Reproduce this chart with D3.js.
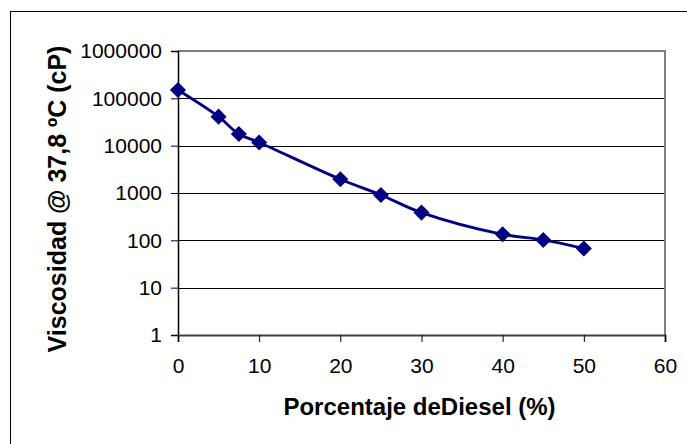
<!DOCTYPE html>
<html>
<head>
<meta charset="utf-8">
<script src="https://cdn.jsdelivr.net/npm/d3@7"></script>
<style>
  body { margin: 0; background: #fff; }
  text { font-family: "Liberation Sans", Arial, sans-serif; }
</style>
</head>
<body>
<div id="chart"></div>
<script>
// porcentaje de diesel (%)
const diesel = [0, 5, 7.5, 10, 20, 25, 30, 40, 45, 50];
// viscosidad @ 37,8 ºC (cP)
const viscosidad = [150000, 41000, 17600, 11700, 1950, 910, 385, 134, 102, 67];
const xTicks = [0, 10, 20, 30, 40, 50, 60];
const yTicks = [1, 10, 100, 1000, 10000, 100000, 1000000];

const width = 687;
const height = 444;
const margin = { top: 51, right: 22, bottom: 109, left: 178 };

const svg = d3.select('#chart')
  .append('svg')
  .attr('width', width)
  .attr('height', height);

// marco exterior
svg.append('rect')
  .attr('x', 10.5)
  .attr('y', 11.5)
  .attr('width', width)
  .attr('height', height)
  .attr('fill', 'none')
  .attr('stroke', '#000')
  .attr('stroke-width', 1);

const x = d3.scaleLinear()
  .domain([0, 60])
  .range([margin.left, width - margin.right]);

const y = d3.scaleLog()
  .domain([1, 1000000])
  .range([height - margin.bottom, margin.top]);

// líneas de cuadrícula
svg.append('g')
  .selectAll('line')
  .data(yTicks.slice(1, -1))
  .enter()
  .append('line')
  .attr('x1', x(0))
  .attr('x2', x(60))
  .attr('y1', d => Math.round(y(d)) + 0.5)
  .attr('y2', d => Math.round(y(d)) + 0.5)
  .attr('stroke', '#000')
  .attr('stroke-width', 1);

// borde del área de trazado (arriba, derecha)
svg.append('path')
  .attr('d', `M${x(0)},${y(1000000)}H${x(60)}V${y(1)}`)
  .attr('fill', 'none')
  .attr('stroke', '#808080')
  .attr('stroke-width', 2);

// eje Y
const yAxis = svg.append('g')
  .attr('transform', `translate(${x(0)},0)`)
  .call(d3.axisLeft(y).tickValues(yTicks).tickFormat(d3.format('d')).tickSize(7).tickPadding(9));
yAxis.select('.domain').attr('stroke', '#000').attr('stroke-width', 1.5);
yAxis.selectAll('.tick line').attr('stroke', '#000');
yAxis.selectAll('.tick text').attr('font-size', 21).attr('fill', '#000');

// eje X
const xAxis = svg.append('g')
  .attr('transform', `translate(0,${y(1)})`)
  .call(d3.axisBottom(x).tickValues(xTicks).tickSize(7).tickPadding(16));
xAxis.select('.domain').attr('stroke', '#404040').attr('stroke-width', 2);
xAxis.selectAll('.tick line').attr('stroke', '#000');
xAxis.selectAll('.tick text').attr('font-size', 21).attr('fill', '#000');

// serie
const data = diesel.map((d, i) => ({ x: d, y: viscosidad[i] }));

const line = d3.line()
  .x(d => x(d.x))
  .y(d => y(d.y))
  .curve(d3.curveCatmullRom.alpha(0.5));

svg.append('path')
  .datum(data)
  .attr('d', line)
  .attr('fill', 'none')
  .attr('stroke', '#000080')
  .attr('stroke-width', 2.8);

svg.append('g')
  .selectAll('path')
  .data(data)
  .enter()
  .append('path')
  .attr('transform', d => `translate(${x(d.x)},${y(d.y)})`)
  .attr('d', d3.symbol().type(d3.symbolDiamond2).size(165))
  .attr('fill', '#000080');

// títulos de los ejes
svg.append('text')
  .attr('x', (x(0) + x(60)) / 2 - 2)
  .attr('y', 415)
  .attr('text-anchor', 'middle')
  .attr('font-size', 24)
  .attr('font-weight', 'bold')
  .text('Porcentaje deDiesel (%)');

svg.append('text')
  .attr('transform', `translate(66,199) rotate(-90)`)
  .attr('text-anchor', 'middle')
  .attr('font-size', 25)
  .attr('font-weight', 'bold')
  .text('Viscosidad @ 37,8 ºC (cP)');
</script>
</body>
</html>
